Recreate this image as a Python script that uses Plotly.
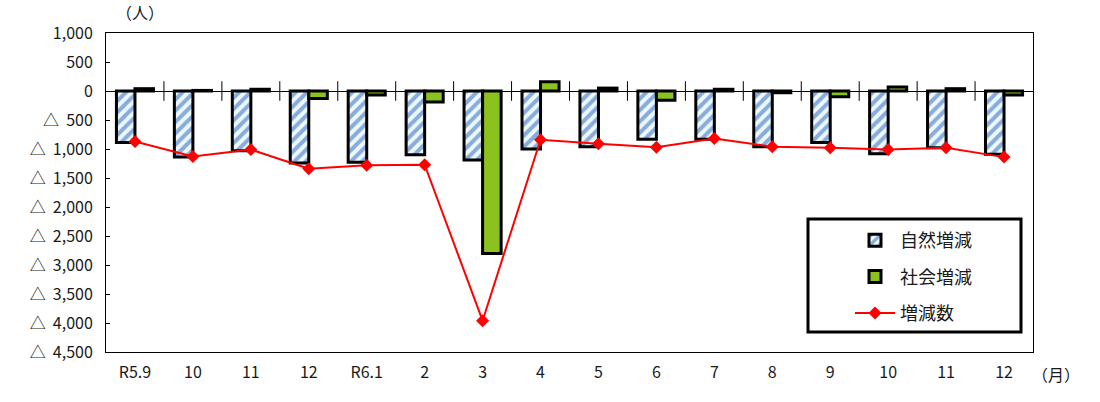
import plotly.graph_objects as go

months = ["R5.9", "10", "11", "12", "R6.1", "2", "3", "4", "5", "6", "7", "8", "9", "10", "11", "12"]
natural = [-890, -1140, -1030, -1240, -1230, -1100, -1190, -1000, -960, -830, -830, -960, -890, -1080, -980, -1090]
social = [40, 10, 30, -130, -70, -190, -2800, 160, 50, -160, 30, -30, -100, 70, 40, -70]
total = [-870, -1130, -1010, -1340, -1280, -1270, -3960, -840, -910, -970, -820, -960, -980, -1010, -980, -1140]

y_ticks = [1000, 500, 0, -500, -1000, -1500, -2000, -2500, -3000, -3500, -4000, -4500]


def fmt(v):
    s = f"{abs(v):,}"
    return s if v >= 0 else "△  " + s


FONT = "Noto Sans CJK JP, Noto Sans, sans-serif"
xs = list(range(len(months)))

fig = go.Figure()
fig.add_trace(go.Bar(
    x=xs, y=natural, name="自然増減", legendgroup="a",
    marker=dict(color="#eef8ff",
                pattern=dict(shape="/", fgcolor="#1f5fb4", bgcolor="#eef8ff", size=8, solidity=0.5, fillmode="overlay"),
                line=dict(color="black", width=3)),
))
fig.add_trace(go.Bar(
    x=xs, y=social, name="社会増減", legendgroup="b",
    marker=dict(color="#8cc21e", line=dict(color="black", width=3)),
))
fig.add_trace(go.Scatter(
    x=xs, y=total, name="増減数", legendgroup="c", mode="lines+markers",
    line=dict(color="#ff0000", width=2),
    marker=dict(symbol="diamond", size=10, color="#ff0000"),
))
# category separator ticks on the zero line
fig.add_trace(go.Scatter(
    x=[i + 0.5 for i in xs[:-1]], y=[0] * (len(xs) - 1), mode="markers",
    marker=dict(symbol="line-ns", size=14, line=dict(color="black", width=1)),
    showlegend=False, hoverinfo="skip",
))

# legend frame
fig.add_shape(type="rect", xref="paper", yref="paper",
              x0=(808 - 106) / 927, x1=(1021 - 106) / 927,
              y0=(352 - 332) / 319, y1=(352 - 219) / 319,
              line=dict(color="black", width=3), fillcolor="white", layer="above")

fig.update_layout(
    width=1100, height=402,
    margin=dict(l=106, r=67, t=33, b=50),
    paper_bgcolor="white", plot_bgcolor="white",
    font=dict(family=FONT, size=16, color="#1a1a1a"),
    barmode="group", bargap=0.36, bargroupgap=0,
    showlegend=True,
    legend=dict(x=(850 - 106) / 927, y=(352 - 222) / 319, xanchor="left", yanchor="top",
                bgcolor="rgba(0,0,0,0)", borderwidth=0, font=dict(size=18, family=FONT),
                traceorder="grouped", tracegroupgap=10, itemwidth=40),
    xaxis=dict(range=[-0.5, len(months) - 0.5], tickvals=xs, ticktext=months,
               showline=True, linecolor="black", linewidth=1, mirror=True,
               ticks="", showgrid=False, zeroline=False, tickfont=dict(size=16),
               ticklabelstandoff=6),
    yaxis=dict(range=[-4500, 1000], tickvals=y_ticks, ticktext=[fmt(v) for v in y_ticks],
               showline=True, linecolor="black", linewidth=1, mirror=True,
               ticks="inside", ticklen=4, tickcolor="black", showgrid=False,
               zeroline=True, zerolinecolor="black", zerolinewidth=1,
               tickfont=dict(size=16), ticklabelstandoff=9),
    annotations=[
        dict(text="（人）", xref="paper", yref="paper", x=(140 - 106) / 927, y=(352 - 12) / 319,
             xanchor="center", yanchor="middle", showarrow=False, font=dict(size=16)),
        dict(text="（月）", xref="paper", yref="paper", x=(1056 - 106) / 927, y=(352 - 374) / 319,
             xanchor="center", yanchor="middle", showarrow=False, font=dict(size=16)),
    ],
)

fig.write_html("out.html")
